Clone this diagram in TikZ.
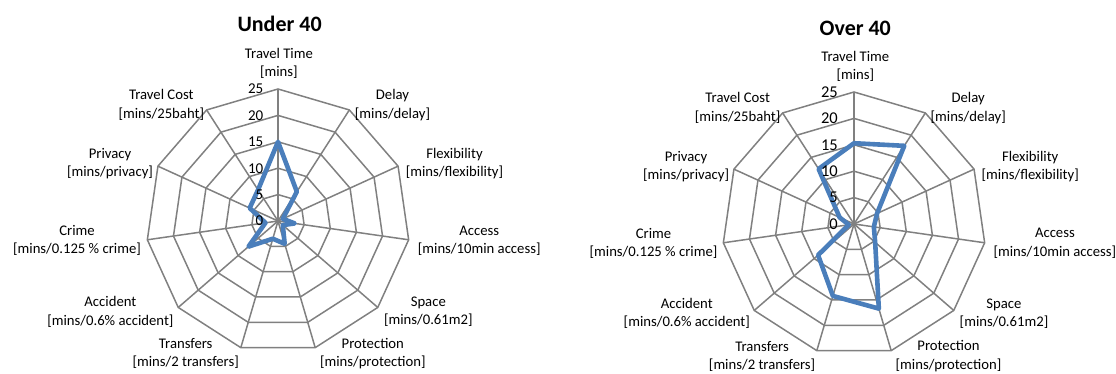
\documentclass[tikz,border=0pt]{standalone}
\usepackage{fontspec}
\setmainfont{Carlito}
\usetikzlibrary{calc}
\definecolor{gridgray}{RGB}{128,128,128}
\definecolor{serblue}{RGB}{74,126,187}
\tikzset{
  gridline/.style={draw=gridgray, line width=1.5pt},
  series/.style={draw=serblue, line width=4.6pt, line join=round},
  lbl/.style={font=\fontsize{14.7}{18.4}\selectfont, align=center, inner sep=0pt},
  ticka/.style={font=\fontsize{15}{16}\selectfont, anchor=east, inner sep=0pt},
  tickb/.style={font=\fontsize{16.5}{18}\selectfont, anchor=east, inner sep=0pt},
  charttitle/.style={font=\fontsize{22}{24}\selectfont\bfseries, inner sep=0pt}
}
\begin{document}
\begin{tikzpicture}[x=1pt,y=-1pt]
\useasboundingbox (0,0) rectangle (1116,374);
\coordinate (c1) at (278,221);
\coordinate (c2) at (854,224);

% ---------- grids ----------
\foreach \c in {c1,c2}{
  \foreach \j in {1,...,5}{
    \draw[gridline] ($(\c)+(90:\j*26.4pt)$)
      \foreach \k in {1,...,10}{ -- ($(\c)+({90-\k*360/11}:\j*26.4pt)$) } -- cycle;
  }
  \foreach \k in {0,...,10}{
    \draw[gridline] (\c) -- ($(\c)+({90-\k*360/11}:132pt)$);
  }
}

% ---------- data ----------
\foreach \v [count=\k from 0] in {15,6.6,1,3.2,1.2,4.5,3.5,7.4,2.4,5.9,7}{
  \coordinate (a\k) at ($(c1)+({90-\k*360/11}:\v*5.28pt)$);
}
\foreach \v [count=\k from 0] in {15.3,17.6,4.8,3.8,5.3,16.7,14.2,9,1,3,12.4}{
  \coordinate (b\k) at ($(c2)+({90-\k*360/11}:\v*5.28pt)$);
}
\draw[series] (a0) -- (a1) -- (a2) -- (a3) -- (a4) -- (a5) -- (a6) -- (a7) -- (a8) -- (a9) -- (a10) -- cycle;
\draw[series] (b0) -- (b1) -- (b2) -- (b3) -- (b4) -- (b5) -- (b6) -- (b7) -- (b8) -- (b9) -- (b10) -- cycle;

% ---------- tick labels ----------
\foreach \n [count=\j from 0] in {0,5,10,15,20,25}{
  \node[ticka] (ta\n) at (263.5,221-\j*26.4) {\n};
  \node[tickb] (tb\n) at (838,224-\j*26.4) {\n};
}

% ---------- titles ----------
\node[charttitle] (title1) at (279.6,24) {Under 40};
\node[charttitle] (title2) at (855.3,28.3) {Over 40};

% ---------- axis labels, left chart ----------
\node[lbl] (l1tt) at (278.9,63.5) {Travel Time\\{}[mins]};
\node[lbl] (l1de) at (392.5,105) {Delay\\{}[mins/delay]};
\node[lbl] (l1fl) at (454.5,163.8) {Flexibility\\{}[mins/flexibility]};
\node[lbl] (l1ac) at (479.2,240.5) {Access\\{}[mins/10min access]};
\node[lbl] (l1sp) at (428.3,311.7) {Space\\{}[mins/0.61m2]};
\node[lbl] (l1pr) at (372.8,353.4) {Protection\\{}[mins/protection]};
\node[lbl] (l1tr) at (185.7,353.4) {Transfers\\{}[mins/2 transfers]};
\node[lbl] (l1acc) at (110.4,311.7) {Accident\\{}[mins/0.6\% accident]};
\node[lbl] (l1cr) at (77,240.5) {Crime\\{}[mins/0.125 \% crime]};
\node[lbl] (l1pv) at (110,163.8) {Privacy\\{}[mins/privacy]};
\node[lbl] (l1tc) at (161.3,105) {Travel Cost\\{}[mins/25baht]};

% ---------- axis labels, right chart ----------
\node[lbl] (l2tt) at (855.3,66.7) {Travel Time\\{}[mins]};
\node[lbl] (l2de) at (968.2,108) {Delay\\{}[mins/delay]};
\node[lbl] (l2fl) at (1030.2,166.5) {Flexibility\\{}[mins/flexibility]};
\node[lbl] (l2ac) at (1054.9,243.3) {Access\\{}[mins/10min access]};
\node[lbl] (l2sp) at (1004,313.5) {Space\\{}[mins/0.61m2]};
\node[lbl] (l2pr) at (948.5,356.2) {Protection\\{}[mins/protection]};
\node[lbl] (l2tr) at (762.1,356.2) {Transfers\\{}[mins/2 transfers]};
\node[lbl] (l2acc) at (686.8,313.5) {Accident\\{}[mins/0.6\% accident]};
\node[lbl] (l2cr) at (653.5,243.3) {Crime\\{}[mins/0.125 \% crime]};
\node[lbl] (l2pv) at (686.1,166.5) {Privacy\\{}[mins/privacy]};
\node[lbl] (l2tc) at (737.7,108) {Travel Cost\\{}[mins/25baht]};
\end{tikzpicture}
\end{document}
